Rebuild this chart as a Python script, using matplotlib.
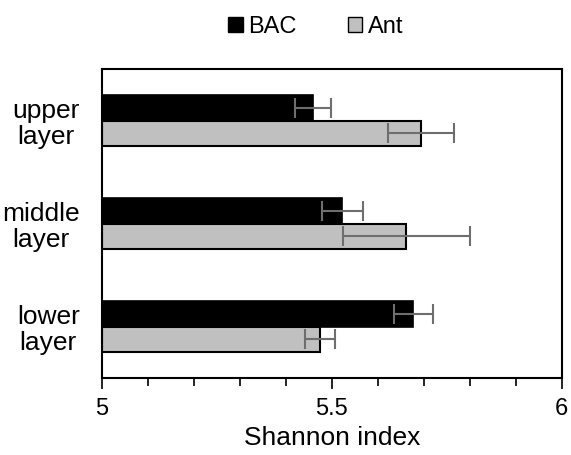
import matplotlib
matplotlib.use("Agg")
import matplotlib.pyplot as plt
import numpy as np
from matplotlib.ticker import MultipleLocator
from matplotlib.patches import Patch

plt.rcParams['font.family'] = ['Liberation Sans', 'DejaVu Sans']

categories = ["lower\nlayer", "middle\nlayer", "upper\nlayer"]
bac_values = [5.677, 5.523, 5.459]
bac_errors = [0.042, 0.045, 0.040]
ant_values = [5.474, 5.662, 5.693]
ant_errors = [0.033, 0.138, 0.072]
series_names = ["BAC", "Ant"]
xticks = [5, 5.5, 6]
xtick_labels = ["5", "5.5", "6"]

fig = plt.figure(figsize=(5.71, 4.55), dpi=100)
ax = fig.add_axes([0.1786, 0.169, 0.8054, 0.679])

y = np.arange(len(categories))
h = 0.245
err_kw = dict(ecolor="#6e6e6e", elinewidth=1.5, capsize=7, capthick=1.5)
ax.barh(y + h / 2, [v - 5 for v in bac_values], height=h, left=5,
        color="black", edgecolor="black", linewidth=1.2,
        xerr=bac_errors, error_kw=err_kw)
ax.barh(y - h / 2, [v - 5 for v in ant_values], height=h, left=5,
        color="#c0c0c0", edgecolor="black", linewidth=1.5,
        xerr=ant_errors, error_kw=err_kw)

ax.set_xlim(5, 6)
ax.set_ylim(-0.5, 2.5)
ax.set_yticks(y)
ax.set_yticklabels(categories, fontsize=19, linespacing=1.1, ma='center')
ax.tick_params(axis='y', length=0, pad=16)
ax.set_xticks(xticks)
ax.set_xticklabels(xtick_labels, fontsize=17)
ax.xaxis.set_minor_locator(MultipleLocator(0.1))
ax.tick_params(axis='x', which='major', length=8, width=1.2, direction='out', pad=6)
ax.tick_params(axis='x', which='minor', length=6, width=1.2, direction='out')
for s in ax.spines.values():
    s.set_linewidth(1.5)
ax.set_xlabel("Shannon index", fontsize=19, labelpad=5)

handles = [Patch(facecolor="black", edgecolor="black", linewidth=1.0),
           Patch(facecolor="#c0c0c0", edgecolor="black", linewidth=1.0)]
fig.legend(handles, series_names, loc="center", bbox_to_anchor=(0.553, 0.94),
           ncol=2, frameon=False, fontsize=17, handlelength=0.6, handleheight=0.6,
           handletextpad=0.25, columnspacing=2.15)

fig.savefig("out.png", dpi=100)
